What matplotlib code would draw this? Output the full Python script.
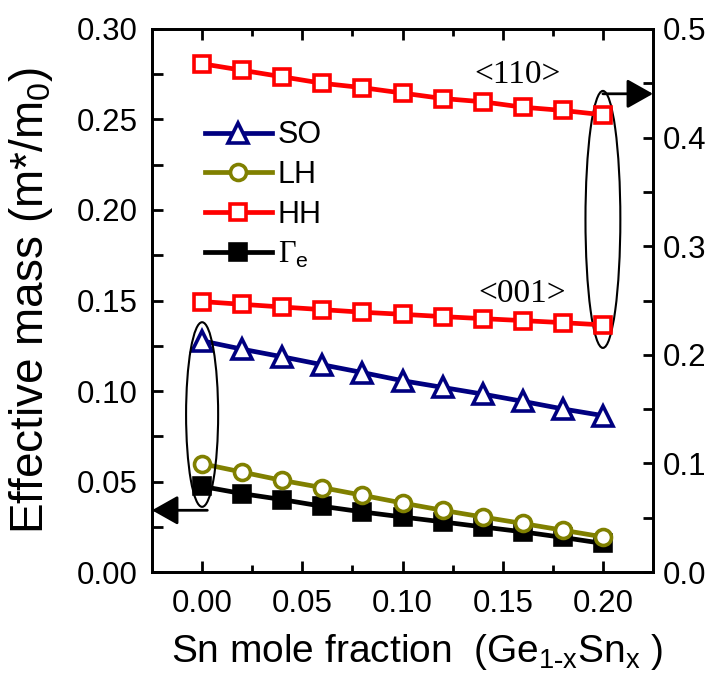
import matplotlib
matplotlib.use('Agg')
from matplotlib import pyplot as plt
from matplotlib.patches import Ellipse

plt.rcParams['font.family'] = ['Liberation Sans', 'DejaVu Sans']
plt.rcParams['mathtext.fontset'] = 'custom'
plt.rcParams['mathtext.rm'] = 'Liberation Serif'
plt.rcParams['mathtext.sf'] = 'Liberation Sans'
plt.rcParams['mathtext.it'] = 'Liberation Sans:italic'
plt.rcParams['mathtext.default'] = 'regular'

# Sn mole fraction
x = [0.00, 0.02, 0.04, 0.06, 0.08, 0.10, 0.12, 0.14, 0.16, 0.18, 0.20]

# left axis (m*/m0)
so = [0.1277, 0.1231, 0.1189, 0.1145, 0.1102, 0.1057, 0.1020, 0.0983, 0.0943, 0.0901, 0.0864]
lh = [0.0598, 0.0552, 0.0506, 0.0466, 0.0424, 0.0381, 0.0341, 0.0304, 0.0268, 0.0231, 0.0194]
gamma_e = [0.0473, 0.0433, 0.0400, 0.0363, 0.0332, 0.0304, 0.0277, 0.0249, 0.0222, 0.0191, 0.0158]

# right axis, heavy hole along two directions
hh_110 = [0.468, 0.462, 0.456, 0.450, 0.446, 0.441, 0.436, 0.433, 0.428, 0.425, 0.421]
hh_001 = [0.249, 0.2465, 0.244, 0.2416, 0.2392, 0.2373, 0.2352, 0.2333, 0.2315, 0.2296, 0.2275]

fig = plt.figure(figsize=(7.15, 6.92), dpi=100)
ax = fig.add_axes([0.2126, 0.1734, 0.7007, 0.7847])
ax2 = ax.twinx()

lw = 3.4
mew = 2.6
ax.plot(x, so, color='#000080', lw=lw, marker='^', ms=14, mfc='white', mew=mew, label='SO', zorder=3)
ax.plot(x, lh, color='#808000', lw=lw, marker='o', ms=11.5, mfc='white', mew=mew, label='LH', zorder=3)
ax.plot([], [], color='red', lw=lw, marker='s', ms=11, mfc='white', mew=mew, label='HH')
ax.plot(x, gamma_e, color='black', lw=lw, marker='s', ms=11, mfc='black', mew=mew,
        label=r'$\mathrm{\Gamma}_{\mathsf{e}}$', zorder=2)

ax2.plot(x, hh_110, color='red', lw=lw, marker='s', ms=11, mfc='white', mew=mew)
ax2.plot(x, hh_001, color='red', lw=lw, marker='s', ms=11, mfc='white', mew=mew)

ax.set_xlim(-0.025, 0.225)
ax.set_ylim(0, 0.30)
ax2.set_ylim(0, 0.5)

ax.set_xticks([0.00, 0.05, 0.10, 0.15, 0.20])
ax.set_xticks([0.025, 0.075, 0.125, 0.175], minor=True)
ax.set_xticklabels(['0.00', '0.05', '0.10', '0.15', '0.20'])
ax.set_yticks([0.00, 0.05, 0.10, 0.15, 0.20, 0.25, 0.30])
ax.set_yticks([0.025, 0.075, 0.125, 0.175, 0.225, 0.275], minor=True)
ax.set_yticklabels(['0.00', '0.05', '0.10', '0.15', '0.20', '0.25', '0.30'])
ax2.set_yticks([0.0, 0.1, 0.2, 0.3, 0.4, 0.5])
ax2.set_yticks([0.05, 0.15, 0.25, 0.35, 0.45], minor=True)
ax2.set_yticklabels(['0.0', '0.1', '0.2', '0.3', '0.4', '0.5'])

ax.tick_params(axis='x', which='both', direction='in', top=True, labelsize=22.5, width=2, pad=12)
ax.tick_params(axis='x', which='major', length=8)
ax.tick_params(axis='x', which='minor', length=5)
ax.tick_params(axis='y', which='both', direction='in', right=False, length=8, width=2,
               labelsize=22.5, pad=10)
ax2.tick_params(axis='y', which='both', direction='in', length=7, width=2, labelsize=22.5, pad=7)
for a in (ax, ax2):
    for s in a.spines.values():
        s.set_linewidth(2)

ax.set_xlabel(r'Sn mole fraction  (Ge$_{1\text{-}x}$Sn$_{x}$ )', fontsize=28)
ax.set_ylabel('Effective mass (m*/m$_0$)', fontsize=33)
ax.xaxis.set_label_coords(0.53, -0.11)
ax.yaxis.set_label_coords(-0.193, 0.5)

ax.legend(loc='upper left', bbox_to_anchor=(0.105, 0.832), frameon=False, fontsize=22,
          numpoints=1, handlelength=2.2, handletextpad=0.2, labelspacing=0.32,
          borderpad=0, borderaxespad=0)

ax.text(0.1575, 0.2746, '<110>', family='Liberation Serif', fontsize=24, ha='center', va='center')
ax.text(0.1595, 0.1535, '<001>', family='Liberation Serif', fontsize=24, ha='center', va='center')

ax.add_patch(Ellipse((0.0, 0.087), 0.016, 0.102, fill=False, lw=1.5, ec='black', zorder=4))
ax.add_patch(Ellipse((0.20, 0.1948), 0.0174, 0.142, fill=False, lw=1.5, ec='black', zorder=4))

arrow = dict(arrowstyle='-|>,head_length=0.8,head_width=0.45', mutation_scale=20,
             lw=2, color='black', shrinkA=0, shrinkB=0)
ax.annotate('', xy=(-0.025, 0.0341), xytext=(0.0026, 0.0341), arrowprops=arrow,
            annotation_clip=False)
ax.annotate('', xy=(0.225, 0.2642), xytext=(0.20, 0.2642), arrowprops=arrow,
            annotation_clip=False)

plt.savefig('out.png', dpi=100)
